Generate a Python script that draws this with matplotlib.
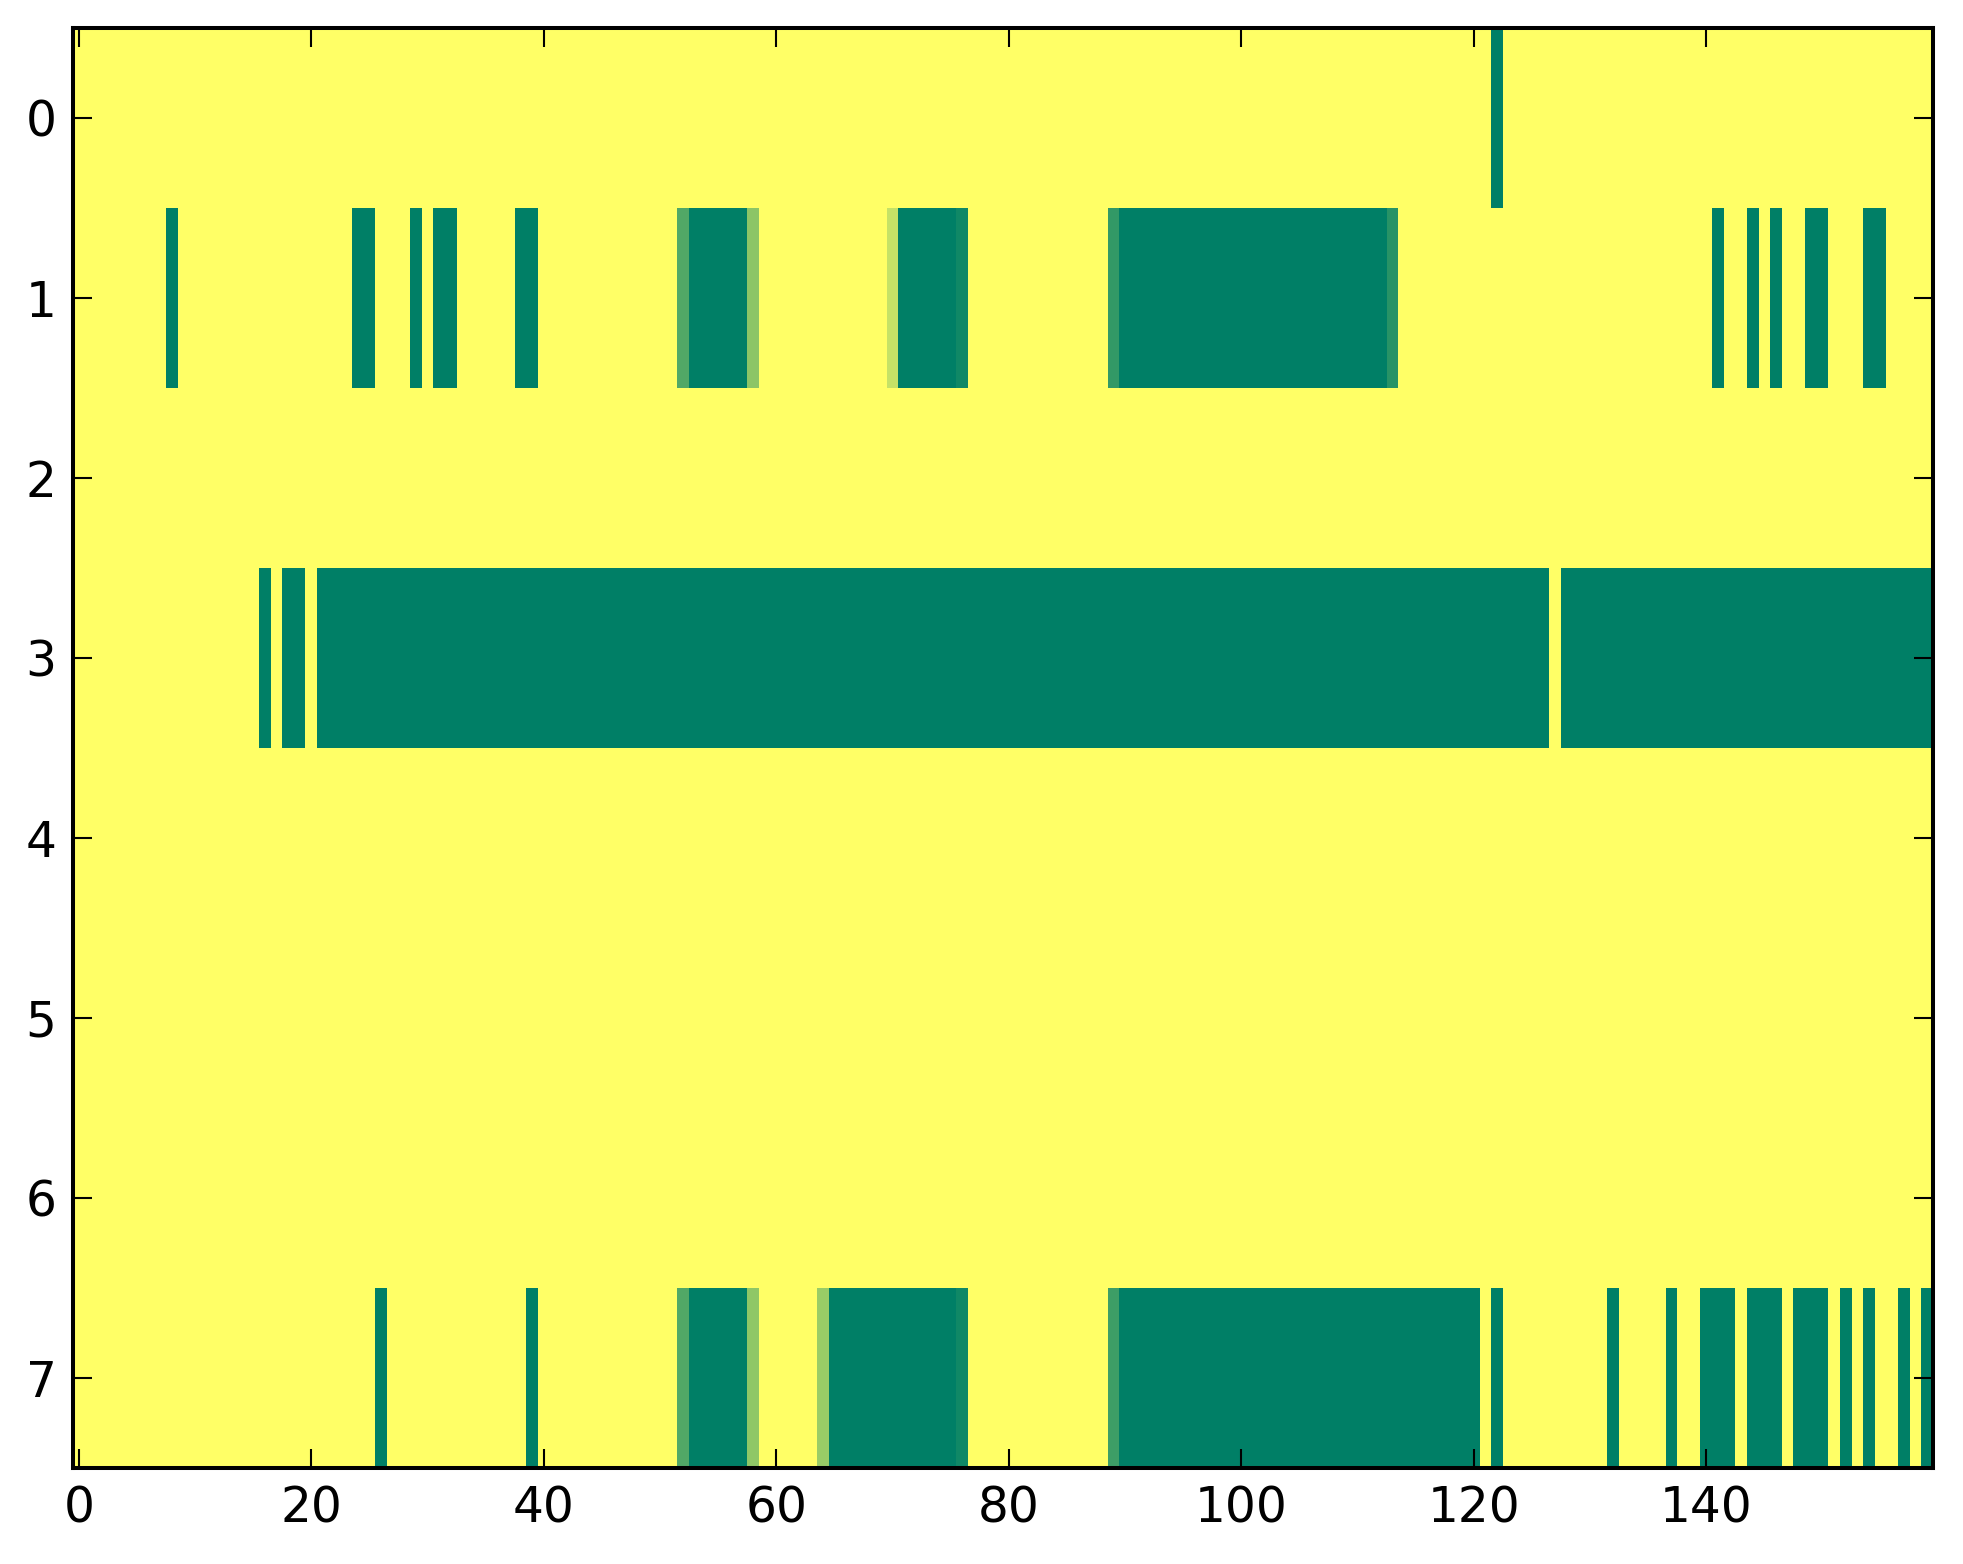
import numpy as np
import matplotlib
matplotlib.use("Agg")
import matplotlib.pyplot as plt

n_rows = 8
n_cols = 160

# fully active column runs (first, last) for each row
row0_runs = [(122, 122)]
row1_runs = [(8, 8), (24, 25), (29, 29), (31, 32), (38, 39), (53, 57), (71, 75),
             (90, 112), (141, 141), (144, 144), (146, 146), (149, 150), (154, 155)]
row3_runs = [(16, 16), (18, 19), (21, 126), (128, 159)]
row7_runs = [(26, 26), (39, 39), (53, 57), (65, 75), (90, 120), (122, 122),
             (132, 132), (137, 137), (140, 142), (144, 146), (148, 150),
             (152, 152), (154, 154), (157, 157), (159, 159)]

# partially active columns
row1_partial = {52: 0.68, 58: 0.45, 70: 0.23, 76: 0.93, 89: 0.80, 113: 0.84}
row7_partial = {52: 0.68, 58: 0.44, 64: 0.40, 76: 0.93, 89: 0.76}

grid = np.zeros((n_rows, n_cols))
for row, runs in [(0, row0_runs), (1, row1_runs), (3, row3_runs), (7, row7_runs)]:
    for a, b in runs:
        grid[row, a:b + 1] = 1.0
for row, part in [(1, row1_partial), (7, row7_partial)]:
    for c, v in part.items():
        grid[row, c] = v

fig = plt.figure(figsize=(19.63, 15.64), dpi=100)
ax = fig.add_axes([0.0373, 0.0617, 0.9474, 0.9207])
ax.imshow(grid, cmap="summer_r", vmin=0, vmax=1, aspect="auto",
          interpolation="nearest")

ax.set_xticks(np.arange(0, 141, 20))
ax.set_yticks(np.arange(0, 8))
ax.tick_params(direction="in", top=True, right=True, length=13.5, width=1.5,
               labelsize=35, pad=12)
for s in ax.spines.values():
    s.set_linewidth(2.9)

fig.savefig("out.png", dpi=100)
